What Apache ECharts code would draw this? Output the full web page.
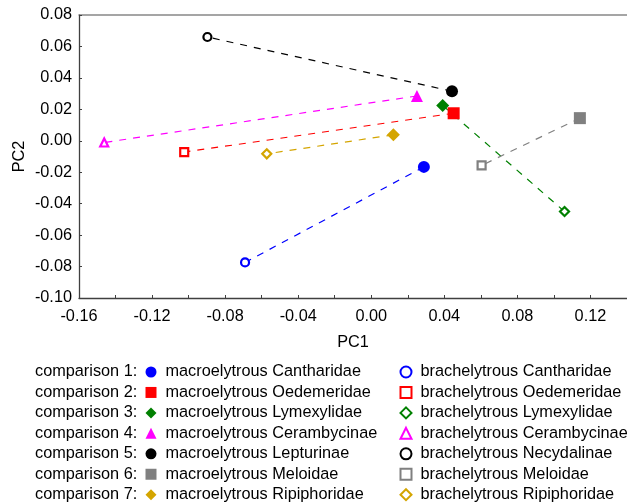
<!DOCTYPE html>
<html>
<head>
<meta charset="utf-8">
<script src="https://cdn.jsdelivr.net/npm/echarts@6/dist/echarts.min.js"></script>
<style>html,body{margin:0;padding:0;background:#fff;}#c{width:627px;height:502px;}</style>
</head>
<body>
<div id="c"></div>
<script>
const comparisonLabels = ['comparison 1:', 'comparison 2:', 'comparison 3:', 'comparison 4:', 'comparison 5:', 'comparison 6:', 'comparison 7:'];
const macroNames = ['macroelytrous Cantharidae', 'macroelytrous Oedemeridae', 'macroelytrous Lymexylidae', 'macroelytrous Cerambycinae', 'macroelytrous Lepturinae', 'macroelytrous Meloidae', 'macroelytrous Ripiphoridae'];
const brachyNames = ['brachelytrous Cantharidae', 'brachelytrous Oedemeridae', 'brachelytrous Lymexylidae', 'brachelytrous Cerambycinae', 'brachelytrous Necydalinae', 'brachelytrous Meloidae', 'brachelytrous Ripiphoridae'];
const macroPC1 = [0.0288, 0.0451, 0.0391, 0.0250, 0.0442, 0.1142, 0.0121];
const macroPC2 = [-0.0166, 0.0175, 0.0224, 0.0285, 0.0315, 0.0144, 0.0038];
const brachyPC1 = [-0.0691, -0.1024, 0.1058, -0.1462, -0.0897, 0.0604, -0.0572];
const brachyPC2 = [-0.0774, -0.0072, -0.0450, -0.0011, 0.0660, -0.0157, -0.0083];
const colors = ['#0000FF', '#FF0000', '#008000', '#FF00FF', '#000000', '#808080', '#D4A500'];
const symbols = ['circle', 'rect', 'diamond', 'triangle', 'circle', 'rect', 'diamond'];

const FONT = "'Liberation Sans', Arial, sans-serif";
const FS = 16.3;
const chart = echarts.init(document.getElementById('c'), null, {renderer: 'canvas'});

const series = [];
for (let i = 0; i < 7; i++) {
  series.push({
    type: 'line', name: 'link' + i, z: 1, silent: true, showSymbol: false, symbol: 'none',
    data: [[macroPC1[i], macroPC2[i]], [brachyPC1[i], brachyPC2[i]]],
    lineStyle: {color: colors[i], width: 1.2, type: [7, 7]}
  });
}
for (let i = 0; i < 7; i++) {
  series.push({
    type: 'scatter', name: macroNames[i], z: 3, symbol: symbols[i], symbolSize: symbols[i] === 'diamond' ? 13 : 12,
    data: [[macroPC1[i], macroPC2[i]]],
    itemStyle: {color: colors[i], opacity: 1}
  });
}
for (let i = 0; i < 7; i++) {
  series.push({
    type: 'scatter', name: brachyNames[i], z: 4, symbol: symbols[i], symbolSize: symbols[i] === 'diamond' ? 9 : 8,
    data: [[brachyPC1[i], brachyPC2[i]]],
    itemStyle: {color: '#ffffff', borderColor: colors[i], borderWidth: 2.2, opacity: 1}
  });
}

const legendCommon = {
  orient: 'vertical', top: 364, height: 160, padding: 0, itemWidth: 11, itemHeight: 11, itemGap: 4.45,
  selectedMode: false, inactiveColor: '#000',
  textStyle: {fontFamily: FONT, fontSize: FS, color: '#000', lineHeight: 16, padding: [0, 0, 0, 4]}
};

const option = {
  animation: false,
  backgroundColor: '#fff',
  grid: {left: 79, top: 15, right: -2, bottom: 204, containLabel: false},
  xAxis: [{
    type: 'value', min: -0.16, max: 0.14, interval: 0.02,
    name: 'PC1', nameLocation: 'middle', nameGap: 37, nameMoveOverlap: false,
    nameTextStyle: {fontFamily: FONT, fontSize: FS, color: '#000'},
    axisLine: {show: true, onZero: false, lineStyle: {color: '#404040', width: 1.3}},
    axisTick: {show: true, inside: true, length: 3, lineStyle: {color: '#404040'}},
    axisLabel: {
      fontFamily: FONT, fontSize: FS, color: '#000', margin: 11, showMaxLabel: false,
      formatter: v => {
        const k = Math.round(v * 100);
        if (k % 4 !== 0) return '';
        return k === 0 ? '0.00' : (k / 100).toFixed(2);
      }
    },
    splitLine: {show: false}
  }, {
    type: 'value', position: 'top', min: -0.16, max: 0.14,
    axisLine: {show: true, onZero: false, lineStyle: {color: '#888', width: 1.5}},
    axisTick: {show: false}, axisLabel: {show: false}, splitLine: {show: false}
  }],
  yAxis: {
    type: 'value', min: -0.10, max: 0.08, interval: 0.02,
    name: 'PC2', nameLocation: 'middle', nameGap: 51, nameMoveOverlap: false,
    nameTextStyle: {fontFamily: FONT, fontSize: FS, color: '#000'},
    axisLine: {show: true, onZero: false, lineStyle: {color: '#404040', width: 1.3}},
    axisTick: {show: true, inside: true, length: 3, lineStyle: {color: '#404040'}},
    axisLabel: {
      fontFamily: FONT, fontSize: FS, color: '#000', margin: 7,
      formatter: v => {
        const k = Math.round(v * 100);
        return k === 0 ? '0.00' : (k / 100).toFixed(2);
      }
    },
    splitLine: {show: false}
  },
  legend: [
    Object.assign({}, legendCommon, {left: 145.5, data: macroNames}),
    Object.assign({}, legendCommon, {left: 399.5, data: brachyNames})
  ],
  graphic: comparisonLabels.map((t, i) => ({
    type: 'text', left: 35, top: 364 + i * 20.45,
    style: {text: t, font: FS + 'px ' + FONT, fill: '#000'}
  })),
  series: series
};
chart.setOption(option);
</script>
</body>
</html>
